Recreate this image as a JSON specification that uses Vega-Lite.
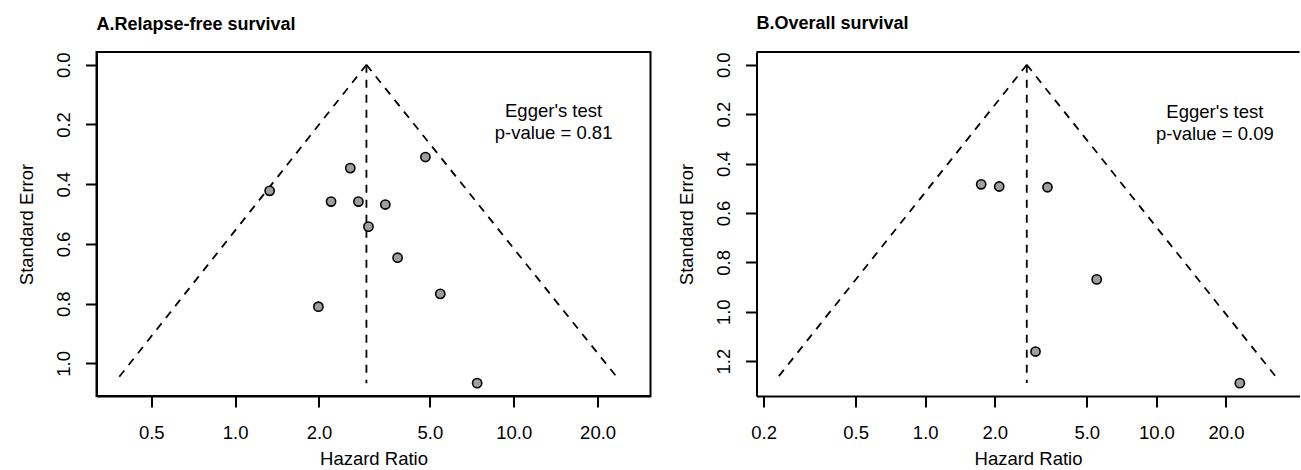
{
  "$schema": "https://vega.github.io/schema/vega-lite/v6.json",
  "autosize": {"type": "pad"},
  "padding": {"left": 15.5, "top": 14, "right": 0, "bottom": 0},
  "bounds": "flush",
  "spacing": 106,
  "background": "white",
  "config": {
    "font": "Liberation Sans",
    "view": {"stroke": null},
    "axis": {
      "grid": false,
      "domain": true,
      "domainColor": "black",
      "domainWidth": 2,
      "tickColor": "black",
      "tickWidth": 2,
      "tickSize": 11,
      "labelFont": "Liberation Sans",
      "labelFontSize": 18.5,
      "labelColor": "black",
      "labelFlush": false,
      "labelOverlap": false,
      "titleFont": "Liberation Sans",
      "titleFontSize": 18.5,
      "titleFontWeight": "normal",
      "titleColor": "black",
      "format": ".1f"
    },
    "axisX": {"labelPadding": 16, "titlePadding": 8},
    "axisY": {"labelAngle": -90, "labelAlign": "center", "labelBaseline": "bottom", "labelPadding": 12, "titlePadding": 18},
    "title": {"anchor": "start", "frame": "group", "font": "Liberation Sans", "fontSize": 18, "fontWeight": "bold", "color": "black", "offset": 18}
  },
  "datasets": {
    "ptsA": [
      {"hr": 4.82, "se": 0.309},
      {"hr": 2.59, "se": 0.346},
      {"hr": 1.33, "se": 0.422},
      {"hr": 2.21, "se": 0.458},
      {"hr": 2.77, "se": 0.458},
      {"hr": 3.46, "se": 0.468},
      {"hr": 3.01, "se": 0.542},
      {"hr": 3.83, "se": 0.646},
      {"hr": 5.45, "se": 0.767},
      {"hr": 1.99, "se": 0.81},
      {"hr": 7.39, "se": 1.066}
    ],
    "ptsB": [
      {"hr": 1.746, "se": 0.484},
      {"hr": 2.09, "se": 0.493},
      {"hr": 3.38, "se": 0.496},
      {"hr": 5.52, "se": 0.869},
      {"hr": 3.0, "se": 1.161},
      {"hr": 22.96, "se": 1.289}
    ],
    "funA": [
      {"hr": 2.96, "se": 0, "hr2": 0.382, "se2": 1.047},
      {"hr": 2.96, "se": 0, "hr2": 23.5, "se2": 1.047},
      {"hr": 2.96, "se": 0, "hr2": 2.96, "se2": 1.066}
    ],
    "funB": [
      {"hr": 2.75, "se": 0, "hr2": 0.2307, "se2": 1.265},
      {"hr": 2.75, "se": 0, "hr2": 33.0, "se2": 1.265},
      {"hr": 2.75, "se": 0, "hr2": 2.75, "se2": 1.288}
    ],
    "one": [{}]
  },
  "hconcat": [
    {
      "width": 554,
      "height": 344,
      "title": {"text": "A.Relapse-free survival"},
      "view": {"stroke": "black", "strokeWidth": 2},
      "layer": [
        {
          "data": {"name": "funA"},
          "mark": {"type": "rule", "color": "black", "strokeWidth": 1.8, "strokeDash": [8, 7]},
          "encoding": {
            "x": {"field": "hr", "type": "quantitative", "title": "Hazard Ratio",
                  "scale": {"type": "log", "domain": [0.318, 30.97], "nice": false, "zero": false},
                  "axis": {"values": [0.5, 1, 2, 5, 10, 20]}},
            "x2": {"field": "hr2"},
            "y": {"field": "se", "type": "quantitative", "title": "Standard Error",
                  "scale": {"domain": [-0.0427, 1.109], "reverse": true, "nice": false, "zero": false},
                  "axis": {"values": [0, 0.2, 0.4, 0.6, 0.8, 1.0]}},
            "y2": {"field": "se2"}
          }
        },
        {
          "data": {"name": "ptsA"},
          "mark": {"type": "point", "shape": "circle", "filled": true, "fill": "#9e9e9e", "stroke": "black", "strokeWidth": 1.6, "size": 85, "opacity": 1},
          "encoding": {
            "x": {"field": "hr", "type": "quantitative", "title": "Hazard Ratio"},
            "y": {"field": "se", "type": "quantitative", "title": "Standard Error"}
          }
        },
        {
          "data": {"name": "one"},
          "mark": {"type": "text", "text": "Egger's test", "align": "center", "baseline": "alphabetic", "fontSize": 18.5, "color": "black", "font": "Liberation Sans"},
          "encoding": {
            "x": {"datum": 13.9, "type": "quantitative"},
            "y": {"datum": 0.176, "type": "quantitative"}
          }
        },
        {
          "data": {"name": "one"},
          "mark": {"type": "text", "text": "p-value = 0.81", "align": "center", "baseline": "alphabetic", "fontSize": 18.5, "color": "black", "font": "Liberation Sans"},
          "encoding": {
            "x": {"datum": 13.9, "type": "quantitative"},
            "y": {"datum": 0.25, "type": "quantitative"}
          }
        }
      ]
    },
    {
      "width": 543,
      "height": 344,
      "title": {"text": "B.Overall survival"},
      "layer": [
        {
          "data": {"name": "funB"},
          "mark": {"type": "rule", "color": "black", "strokeWidth": 1.8, "strokeDash": [8, 7]},
          "encoding": {
            "x": {"field": "hr", "type": "quantitative", "title": "Hazard Ratio",
                  "scale": {"type": "log", "domain": [0.1863, 41.6], "nice": false, "zero": false},
                  "axis": {"values": [0.2, 0.5, 1, 2, 5, 10, 20]}},
            "x2": {"field": "hr2"},
            "y": {"field": "se", "type": "quantitative", "title": "Standard Error",
                  "scale": {"domain": [-0.0516, 1.341], "reverse": true, "nice": false, "zero": false},
                  "axis": {"values": [0, 0.2, 0.4, 0.6, 0.8, 1.0, 1.2]}},
            "y2": {"field": "se2"}
          }
        },
        {
          "data": {"name": "ptsB"},
          "mark": {"type": "point", "shape": "circle", "filled": true, "fill": "#9e9e9e", "stroke": "black", "strokeWidth": 1.6, "size": 85, "opacity": 1},
          "encoding": {
            "x": {"field": "hr", "type": "quantitative", "title": "Hazard Ratio"},
            "y": {"field": "se", "type": "quantitative", "title": "Standard Error"}
          }
        },
        {
          "data": {"name": "one"},
          "mark": {"type": "text", "text": "Egger's test", "align": "center", "baseline": "alphabetic", "fontSize": 18.5, "color": "black", "font": "Liberation Sans"},
          "encoding": {
            "x": {"datum": 17.9, "type": "quantitative"},
            "y": {"datum": 0.215, "type": "quantitative"}
          }
        },
        {
          "data": {"name": "one"},
          "mark": {"type": "text", "text": "p-value = 0.09", "align": "center", "baseline": "alphabetic", "fontSize": 18.5, "color": "black", "font": "Liberation Sans"},
          "encoding": {
            "x": {"datum": 17.9, "type": "quantitative"},
            "y": {"datum": 0.305, "type": "quantitative"}
          }
        },
        {
          "data": {"name": "one"},
          "mark": {"type": "rule", "color": "black", "strokeWidth": 2},
          "encoding": {
            "y": {"datum": -0.0516, "type": "quantitative"}
          }
        }
      ]
    }
  ]
}
